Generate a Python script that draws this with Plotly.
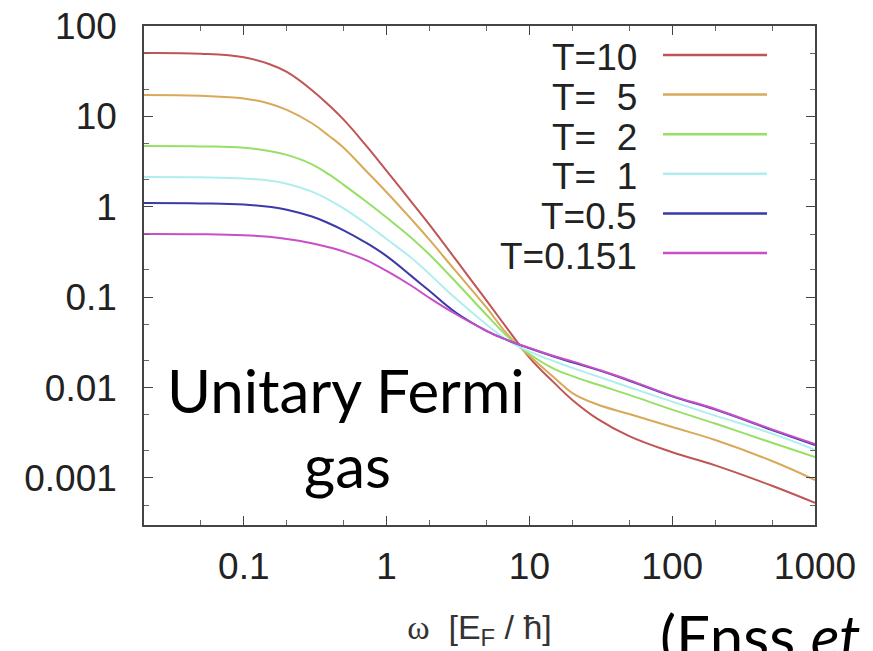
import plotly.graph_objects as go

# frequency grid, omega in units of E_F / hbar
omega = [0.02, 0.05, 0.1, 0.15, 0.2, 0.3, 0.4, 0.5, 0.7, 1, 1.5, 2, 3, 5, 7,
         10, 15, 20, 30, 50, 100, 200, 500, 1000]

# spectral function for each temperature
temps = ["T=10", "T=\u00a0\u00a05", "T=\u00a0\u00a02", "T=\u00a0\u00a01", "T=0.5", "T=0.151"]

t10 = [50.3, 49.3, 45.0, 38.0, 31.0, 19.5, 13.0, 9.2, 5.0, 2.5, 1.12, 0.63,
       0.27, 0.092, 0.045, 0.0215, 0.0112, 0.0073, 0.0045, 0.0029, 0.00193,
       0.00138, 0.00082, 0.00053]
t5 = [17.3, 16.9, 15.8, 13.9, 11.8, 8.4, 6.0, 4.5, 2.6, 1.45, 0.72, 0.43,
      0.20, 0.077, 0.039, 0.0225, 0.0128, 0.0087, 0.0065, 0.0051, 0.00366,
      0.00263, 0.00154, 0.00095]
t2 = [4.71, 4.66, 4.50, 4.15, 3.75, 2.95, 2.25, 1.75, 1.18, 0.76, 0.45, 0.295,
      0.152, 0.064, 0.037, 0.0235, 0.0160, 0.0134, 0.0108, 0.0083, 0.0057,
      0.0040, 0.00245, 0.00171]
t1 = [2.14, 2.12, 2.06, 1.95, 1.80, 1.47, 1.18, 0.96, 0.67, 0.44, 0.27, 0.18,
      0.099, 0.050, 0.0335, 0.0250, 0.0195, 0.0165, 0.0133, 0.0101, 0.0070,
      0.0049, 0.0031, 0.00205]
t05 = [1.10, 1.09, 1.06, 1.00, 0.93, 0.78, 0.65, 0.55, 0.41, 0.285, 0.17,
       0.117, 0.069, 0.0425, 0.0335, 0.0272, 0.0219, 0.0190, 0.0157, 0.0119,
       0.0080, 0.0057, 0.0034, 0.00232]
t0151 = [0.500, 0.497, 0.485, 0.465, 0.44, 0.395, 0.355, 0.32, 0.262, 0.195,
         0.133, 0.098, 0.066, 0.0425, 0.0335, 0.0275, 0.0222, 0.0195, 0.0159,
         0.0121, 0.0081, 0.0058, 0.00345, 0.00238]

series = [t10, t5, t2, t1, t05, t0151]
colors = ["#bf5555", "#d9a95a", "#96e066", "#b0eeee", "#3a3aa8", "#c84fc8"]

y_ticks = [100, 10, 1, 0.1, 0.01, 0.001]
y_tick_text = ["100", "10", "1", "0.1", "0.01", "0.001"]
x_ticks = [0.1, 1, 10, 100, 1000]
x_tick_text = ["0.1", "1", "10", "100", "1000"]

fig = go.Figure()
for name, vals, col in zip(temps, series, colors):
    fig.add_trace(go.Scatter(
        x=omega, y=vals, mode="lines", name=name,
        line=dict(color=col, width=2, shape="spline", smoothing=1.2),
        showlegend=False,
    ))

tick_font = dict(family="Liberation Sans, Arial, sans-serif", size=37, color="#222")
axis_common = dict(
    type="log", showgrid=False, zeroline=False, automargin=False,
    showline=True, linecolor="#444", linewidth=1.5, mirror="allticks",
    ticks="inside", ticklen=9, tickwidth=1.2, tickcolor="#444",
    tickfont=tick_font,
    minor=dict(ticks="inside", ticklen=5, tickwidth=1, tickcolor="#666", dtick="D2"),
)

fig.update_xaxes(
    **axis_common,
    range=[-1.699, 3.0],
    tickvals=x_ticks, ticktext=x_tick_text,
    ticklabelstandoff=8,
    title=dict(text="<span style='font-family:Liberation Serif'>\u03c9</span>"
                    "\u00a0\u00a0[E<sub>F</sub>\u00a0/\u00a0\u0127]",
               font=dict(family="Liberation Sans, Arial, sans-serif", size=34, color="#333"),
               standoff=36),
)
fig.update_yaxes(
    **axis_common,
    range=[-3.52, 2.0],
    tickvals=y_ticks, ticktext=y_tick_text,
    ticklabelstandoff=18,
)

# key: labels right-aligned with line samples to their right
top_px, bottom_px, left_px, right_px = 26, 525, 144, 815
ph = bottom_px - top_px
pw = right_px - left_px

def px_x(v):
    return (v - left_px) / pw

def px_y(v):
    return 1 - (v - top_px) / ph

row0, row_step = 55, 39.6
for i, (name, col) in enumerate(zip(temps, colors)):
    row = row0 + i * row_step
    fig.add_annotation(
        x=px_x(639), y=px_y(row + 3), xref="paper", yref="paper",
        xanchor="right", yanchor="middle", showarrow=False, text=name,
        font=dict(family="Liberation Sans, Arial, sans-serif", size=37, color="#222"),
    )
    fig.add_shape(
        type="line", xref="paper", yref="paper",
        x0=px_x(663), x1=px_x(767), y0=px_y(row), y1=px_y(row),
        line=dict(color=col, width=2.5),
    )

slide_font = dict(family="Lato, Open Sans, sans-serif", size=60, color="#000")
fig.add_annotation(
    x=px_x(346), y=px_y(390), xref="paper", yref="paper",
    xanchor="center", yanchor="middle", showarrow=False,
    text="Unitary Fermi", font=slide_font,
)
fig.add_annotation(
    x=px_x(347), y=px_y(465), xref="paper", yref="paper",
    xanchor="center", yanchor="middle", showarrow=False,
    text="gas", font=slide_font,
)
fig.add_annotation(
    x=px_x(658), y=px_y(636), xref="paper", yref="paper",
    xanchor="left", yanchor="middle", showarrow=False,
    text="(Enss <i>et</i>", font=slide_font,
)

fig.update_layout(
    width=873, height=651,
    margin=dict(l=left_px, r=873 - right_px, t=top_px, b=651 - bottom_px),
    paper_bgcolor="white", plot_bgcolor="white",
)

fig.write_html("out.html")
